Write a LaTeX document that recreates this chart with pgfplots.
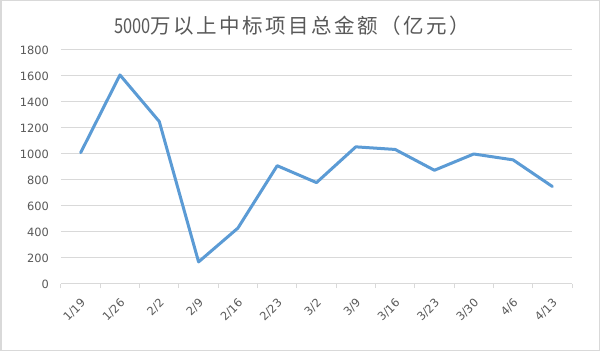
\documentclass[border=0pt]{standalone}
\usepackage{pgfplots}
\pgfplotsset{compat=1.18}
\usepackage{fontspec}
\setmainfont{DejaVu Sans}
\newfontfamily\cjk{Noto Sans CJK SC}
\newfontfamily\cjkls[LetterSpace=12]{Noto Sans CJK SC}
\definecolor{linec}{HTML}{5B9BD5}
\definecolor{gridc}{HTML}{D9D9D9}
\definecolor{txt}{HTML}{595959}
\begin{document}
\begin{tikzpicture}[x=1pt,y=1pt]
\fill[white] (0,0) rectangle (600,351);
\draw[color=gridc, line width=1.5pt] (0.75,0.75) rectangle (599.25,350.25);
\useasboundingbox (0,0) rectangle (600,351);
\begin{axis}[at={(61pt,67pt)}, anchor=south west, scale only axis,
  width=511pt, height=234pt,
  xmin=-0.5, xmax=12.5, ymin=0, ymax=1800,
  xtick={0,...,12},
  xticklabels={1/19,1/26,2/2,2/9,2/16,2/23,3/2,3/9,3/16,3/23,3/30,4/6,4/13},
  minor xtick={-0.5,0.5,...,12.5},
  ytick={0,200,...,1800},
  ymajorgrids, major grid style={gridc, line width=1pt},
  axis x line*=bottom, axis y line*=left,
  x axis line style={gridc, line width=1pt, -},
  y axis line style={draw=none},
  major tick length=0pt, minor tick length=4pt, tick align=outside,
  minor tick style={gridc, line width=1pt},
  ytick style={draw=none},
  /pgf/number format/assume math mode=true,
  /pgf/number format/1000 sep={},
  xticklabel style={xshift=3pt, yshift=-17pt, rotate=45, anchor=east, inner sep=0pt,
    font=\fontsize{11.4}{13}\selectfont, text=txt},
  yticklabel style={anchor=east, inner sep=0pt, xshift=-12pt,
    font=\fontsize{11.4}{13}\selectfont, text=txt},
]
\addplot[color=linec, line width=3pt, line join=round, line cap=round, mark=none]
  coordinates {(0,1010) (1,1608) (2,1250) (3,170) (4,430) (5,910) (6,780)
  (7,1055) (8,1035) (9,875) (10,1000) (11,955) (12,750)};
\end{axis}
\node[text=txt] at (292,325) {\fontsize{20.5}{24}\selectfont\cjk\scalebox{0.8}[1]{5000}\cjkls 万以上中标项目总金额（亿元）};
\end{tikzpicture}
\end{document}
